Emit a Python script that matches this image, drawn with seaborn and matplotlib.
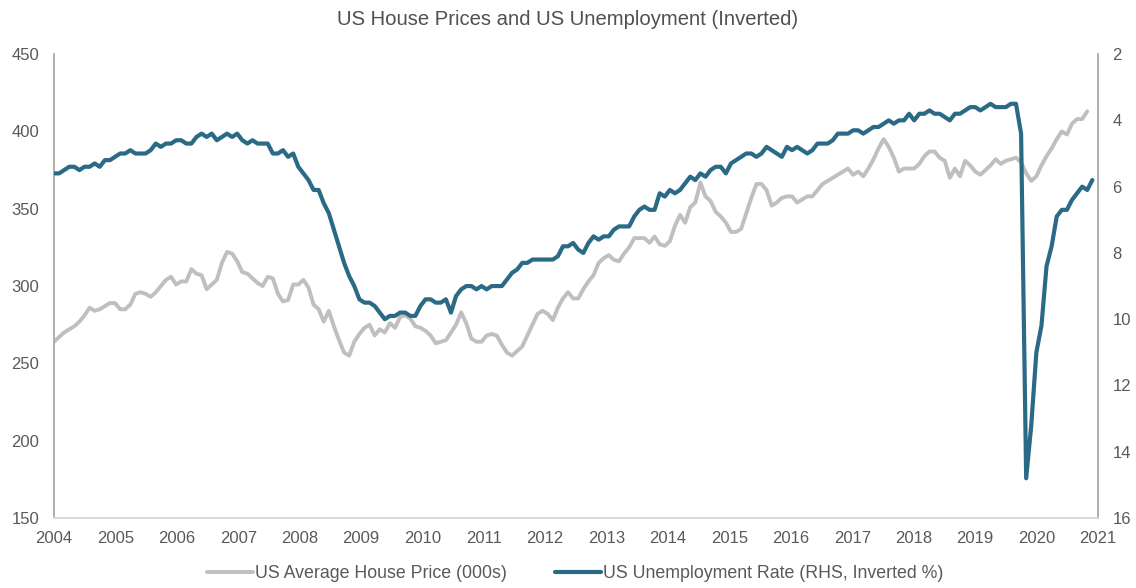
import numpy as np
import pandas as pd
import matplotlib
matplotlib.use("Agg")
import matplotlib.pyplot as plt
import seaborn as sns

# --- data (monthly, first point = left edge) ---
house_price = [
    264, 267, 270, 272, 274, 277, 281, 286, 284, 285, 287, 289,
    289, 285, 285, 288, 295, 296, 295, 293, 296, 300, 304, 306,
    301, 303, 303, 311, 308, 307, 298, 301, 304, 315, 322, 321,
    316, 309, 308, 305, 302, 300, 306, 305, 295, 290, 291, 301,
    301, 304, 299, 288, 285, 277, 284, 274, 265, 257, 255, 264,
    269, 273, 275, 268, 272, 270, 276, 273, 280, 281, 279, 274,
    273, 271, 268, 263, 264, 265, 270, 275, 283, 276, 266, 264,
    264, 268, 269, 268, 262, 257, 255, 258, 261, 268, 275, 282,
    284, 282, 278, 286, 292, 296, 292, 292, 298, 303, 307, 315,
    318, 320, 317, 316, 321, 325, 331, 331, 331, 328, 332, 327,
    326, 329, 339, 346, 341, 351, 354, 367, 358, 355, 348, 345,
    341, 335, 335, 337, 347, 357, 366, 366, 362, 352, 354, 357,
    358, 358, 354, 356, 358, 358, 362, 366, 368, 370, 372, 374,
    376, 372, 374, 371, 376, 382, 389, 395, 390, 383, 374, 376,
    376, 376, 379, 384, 387, 387, 383, 381, 370, 376, 371, 381,
    378, 374, 372, 375, 378, 382, 379, 381, 382, 383, 380, 373,
    368, 371, 378, 384, 389, 395, 400, 398, 405, 408, 408, 413,
]
unemployment = [
    5.6, 5.6, 5.5, 5.4, 5.4, 5.5, 5.4, 5.4,
    5.3, 5.4, 5.2, 5.2, 5.1, 5.0, 5.0, 4.9, 5.0, 5.0, 5.0, 4.9,
    4.7, 4.8, 4.7, 4.7, 4.6, 4.6, 4.7, 4.7, 4.5, 4.4, 4.5, 4.4,
    4.6, 4.5, 4.4, 4.5, 4.4, 4.6, 4.7, 4.6, 4.7, 4.7, 4.7, 5.0,
    5.0, 4.9, 5.1, 5.0, 5.4, 5.6, 5.8, 6.1, 6.1, 6.5, 6.8, 7.3,
    7.8, 8.3, 8.7, 9.0, 9.4, 9.5, 9.5, 9.6, 9.8, 10.0, 9.9, 9.9,
    9.8, 9.8, 9.9, 9.9, 9.6, 9.4, 9.4, 9.5, 9.5, 9.4, 9.8, 9.3,
    9.1, 9.0, 9.0, 9.1, 9.0, 9.1, 9.0, 9.0, 9.0, 8.8, 8.6, 8.5,
    8.3, 8.3, 8.2, 8.2, 8.2, 8.2, 8.2, 8.1, 7.8, 7.8, 7.7, 7.9,
    8.0, 7.7, 7.5, 7.6, 7.5, 7.5, 7.3, 7.2, 7.2, 7.2, 6.9, 6.7,
    6.6, 6.7, 6.7, 6.2, 6.3, 6.1, 6.2, 6.1, 5.9, 5.7, 5.8, 5.6,
    5.7, 5.5, 5.4, 5.4, 5.6, 5.3, 5.2, 5.1, 5.0, 5.0, 5.1, 5.0,
    4.8, 4.9, 5.0, 5.1, 4.8, 4.9, 4.8, 4.9, 5.0, 4.9, 4.7, 4.7,
    4.7, 4.6, 4.4, 4.4, 4.4, 4.3, 4.3, 4.4, 4.3, 4.2, 4.2, 4.1,
    4.0, 4.1, 4.0, 4.0, 3.8, 4.0, 3.8, 3.8, 3.7, 3.8, 3.8, 3.9,
    4.0, 3.8, 3.8, 3.7, 3.6, 3.6, 3.7, 3.6, 3.5, 3.6, 3.6, 3.6,
    3.5, 3.5, 4.4, 14.8, 13.2, 11.0, 10.2, 8.4, 7.8, 6.9, 6.7, 6.7,
    6.4, 6.2, 6.0, 6.1, 5.8,
]
year_labels = [str(y) for y in range(2004, 2022)]

df_hp = pd.DataFrame({"month": np.arange(len(house_price)), "value": house_price})
df_un = pd.DataFrame({"month": np.arange(len(unemployment)), "value": unemployment})

# --- style ---
sns.set_theme(style="white")
plt.rcParams["font.family"] = ["Liberation Sans", "DejaVu Sans"]
text_col = "#595959"
grey = "#BFBFBF"
blue = "#2A6A85"

fig = plt.figure(figsize=(11.36, 5.88), dpi=100)
ax = fig.add_axes([0.0475, 0.119, 0.919, 0.789])
ax2 = ax.twinx()

sns.lineplot(data=df_hp, x="month", y="value", ax=ax, color=grey, linewidth=2.8,
             label="US Average House Price (000s)", legend=False)
sns.lineplot(data=df_un, x="month", y="value", ax=ax2, color=blue, linewidth=3.0,
             label="US Unemployment Rate (RHS, Inverted %)", legend=False)

# x axis: 17 year slots across the plot width
x_max = 205.1
ax.set_xlim(0, x_max)
ax.set_xticks(np.linspace(0, x_max, len(year_labels)))
ax.set_xticklabels(year_labels)

ax.set_ylim(150, 450)
ax.set_yticks(range(150, 451, 50))
ax2.set_ylim(16, 2)
ax2.set_yticks(range(2, 17, 2))

for a in (ax, ax2):
    a.set_xlabel("")
    a.set_ylabel("")
    a.tick_params(length=0, labelsize=12, labelcolor=text_col, pad=10.5)
    a.spines["top"].set_visible(False)
    a.spines["left"].set_color("#A6A6A6")
    a.spines["right"].set_color("#A6A6A6")
    a.spines["bottom"].set_color("#D9D9D9")
    a.grid(False)
ax.spines["right"].set_visible(False)
ax2.spines["left"].set_visible(False)
ax.tick_params(axis="x", pad=9)

fig.suptitle("US House Prices and US Unemployment (Inverted)", y=0.983,
             fontsize=14.6, color="#505050")

h1, l1 = ax.get_legend_handles_labels()
h2, l2 = ax2.get_legend_handles_labels()
fig.legend(h1 + h2, l1 + l2, loc="center", bbox_to_anchor=(0.506, 0.024), ncol=2,
           frameon=False, fontsize=12.8, labelcolor=text_col, handlelength=2.6,
           handletextpad=0.1, columnspacing=2.7)

fig.savefig("out.png", dpi=100)
